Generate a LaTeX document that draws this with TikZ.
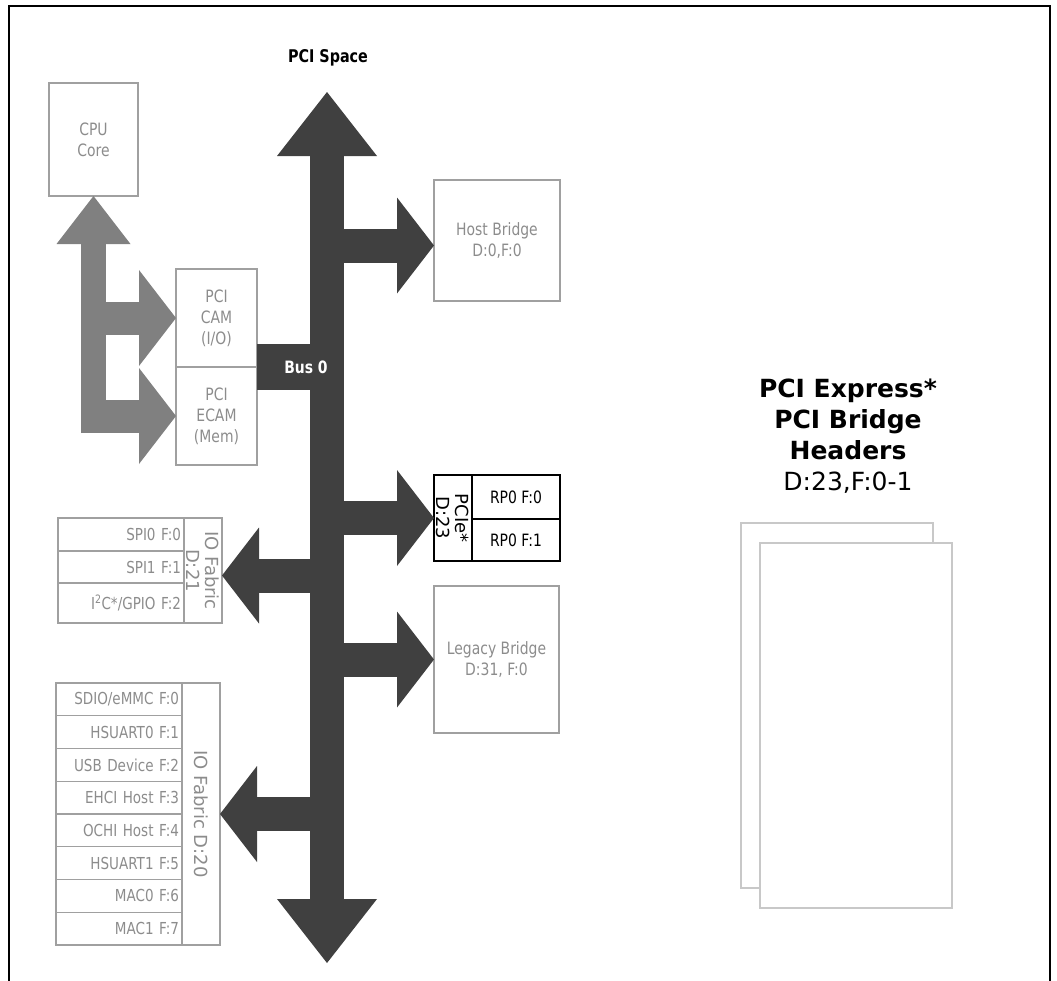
\documentclass[tikz,border=0pt]{standalone}
\usepackage{fontspec}
\setmainfont{DejaVu Sans}
\newfontfamily\visfont[FakeStretch=0.82]{DejaVu Sans}
\usetikzlibrary{arrows.meta}
\definecolor{busgray}{HTML}{404040}
\definecolor{linkgray}{HTML}{808080}
\definecolor{boxgray}{HTML}{A0A0A0}
\definecolor{txtgray}{HTML}{8C8C8C}
\definecolor{hdrgray}{HTML}{C8C8C8}
\tikzset{
  bushead/.tip={Triangle[length=64pt,width=100pt,line width=0pt]},
  branchhead/.tip={Triangle[length=37pt,width=96pt,line width=0pt]},
  linkhead/.tip={Triangle[length=48pt,width=74pt,line width=0pt]},
  sidehead/.tip={Triangle[length=37pt,width=96pt,line width=0pt]},
}

\begin{document}
\begin{tikzpicture}[x=1pt,y=-1pt,
    gbox/.style={draw=boxgray, line width=1.2pt, text=txtgray, font=\visfont\fontsize{17}{21}\selectfont, align=center, inner sep=0pt, outer sep=0pt},
    kbox/.style={gbox, draw=black, text=black},
    rowbox/.style={gbox, font=\visfont\fontsize{16.5}{20}\selectfont, align=right, text width=120pt, inner xsep=3pt, inner ysep=0pt},
    vlbl/.style={rotate=-90, align=center, font=\fontsize{18}{19}\selectfont, text=txtgray, inner sep=0pt},
    bus/.style={draw=busgray, line width=34pt},
    branch/.style={draw=busgray, line width=34pt},
    link/.style={draw=linkgray, line width=25pt},
    linkbranch/.style={draw=linkgray, line width=33pt},
    hdrbox/.style={draw=hdrgray, line width=1.5pt, minimum width=192pt, minimum height=365pt}]
    \useasboundingbox (0,0) rectangle (1057,980);
    \draw[line width=2pt] (9,990) -- (9,6) -- (1050,6) -- (1050,990);

    % left side
    \node[gbox, minimum width=89pt, minimum height=113pt] (cpu) at (93.5,139.5) {CPU\\Core};
    \node[gbox, minimum width=81pt, minimum height=98pt] (cam) at (216.5,318) {PCI\\CAM\\(I/O)};
    \node[gbox, minimum width=81pt, minimum height=98pt] (ecam) at (216.5,416) {PCI\\ECAM\\(Mem)};

    \node[rowbox, minimum height=33pt] (spi0) at (121,534.5) {SPI0 F:0};
    \node[rowbox, minimum height=32pt] (spi1) at (121,567) {SPI1 F:1};
    \node[rowbox, minimum height=40pt] (gpio) at (121,603) {I\textsuperscript{2}C*/GPIO F:2};
    \node[gbox, minimum width=38pt, minimum height=105pt] (d21) at (203,570.5) {};
    \node[vlbl] at (d21) {IO Fabric\\D:21};

    \node[rowbox, minimum height=32.75pt] (sdio) at (119,699.4) {SDIO/eMMC F:0};
    \node[rowbox, minimum height=32.75pt] (uart0) at (119,732.1) {HSUART0 F:1};
    \node[rowbox, minimum height=32.75pt] (usbdev) at (119,764.9) {USB Device F:2};
    \node[rowbox, minimum height=32.75pt] (ehci) at (119,797.6) {EHCI Host F:3};
    \node[rowbox, minimum height=32.75pt] (ochi) at (119,830.4) {OCHI Host F:4};
    \node[rowbox, minimum height=32.75pt] (uart1) at (119,863.1) {HSUART1 F:5};
    \node[rowbox, minimum height=32.75pt] (mac0) at (119,895.9) {MAC0 F:6};
    \node[rowbox, minimum height=32.75pt] (mac1) at (119,928.6) {MAC1 F:7};
    \node[gbox, minimum width=38pt, minimum height=262pt] (d20) at (201,814) {};
    \node[vlbl] at (d20) {IO Fabric D:20};

    % right of the bus
    \node[gbox, minimum width=126pt, minimum height=121pt] (host) at (497,240.5) {Host Bridge\\D:0,F:0};
    \node[kbox, minimum width=38pt, minimum height=86pt] (pcie) at (453,518) {};
    \node[vlbl, text=black] at (pcie) {PCIe*\\D:23};
    \node[kbox, minimum width=88pt, minimum height=44pt] (rpa) at (516,497) {RP0 F:0};
    \node[kbox, minimum width=88pt, minimum height=42pt] (rpb) at (516,540) {RP0 F:1};
    \node[gbox, minimum width=125pt, minimum height=147pt] (legacy) at (496.5,659.5) {Legacy Bridge\\D:31, F:0};

    % bus 0
    \node[font=\visfont\bfseries\fontsize{17.5}{21}\selectfont] (space) at (328,58) {PCI Space};
    \coordinate (bustop) at (327,92);
    \coordinate (busbot) at (327,963);
    \draw[bus, bushead-bushead] (bustop) -- (busbot);
    \node[fill=busgray, text=white, font=\visfont\bfseries\fontsize{17}{21}\selectfont, minimum width=87pt, minimum height=46pt, inner sep=0pt] (bus0) at (300.5,367) {\hspace*{11pt}Bus 0};

    \coordinate (hostin) at ([yshift=-5pt]host.west);
    \coordinate (d21in) at ([yshift=-5pt]d21.east);
    \draw[branch, -branchhead] (bustop |- hostin) -- (hostin);
    \draw[branch, -branchhead] (bustop |- pcie.west) -- (pcie.west);
    \draw[branch, -branchhead] (bustop |- legacy.west) -- (legacy.west);
    \draw[branch, -branchhead] (bustop |- d21in) -- (d21in);
    \draw[branch, -branchhead] (bustop |- d20.east) -- (d20.east);

    % cpu access paths
    \coordinate (linkfoot) at (93.5,433);
    \coordinate (linkleft) at (81,433);
    \draw[link, -linkhead] (linkfoot) -- (cpu.south);
    \draw[linkbranch, -sidehead] (linkleft |- cam.west) -- (cam.west);
    \draw[linkbranch, -sidehead] (linkleft |- ecam.west) -- (ecam.west);

    % bridge headers
    \node[align=center, font=\fontsize{25}{31}\selectfont] (hdrtitle) at (848,436) {\textbf{PCI Express*}\\\textbf{PCI Bridge}\\\textbf{Headers}\\D:23,F:0-1};
    \node[hdrbox] (hdrback) at (837,705.5) {};
    \node[hdrbox, fill=white] (hdrfront) at (856,725.5) {};
\end{tikzpicture}
\end{document}
